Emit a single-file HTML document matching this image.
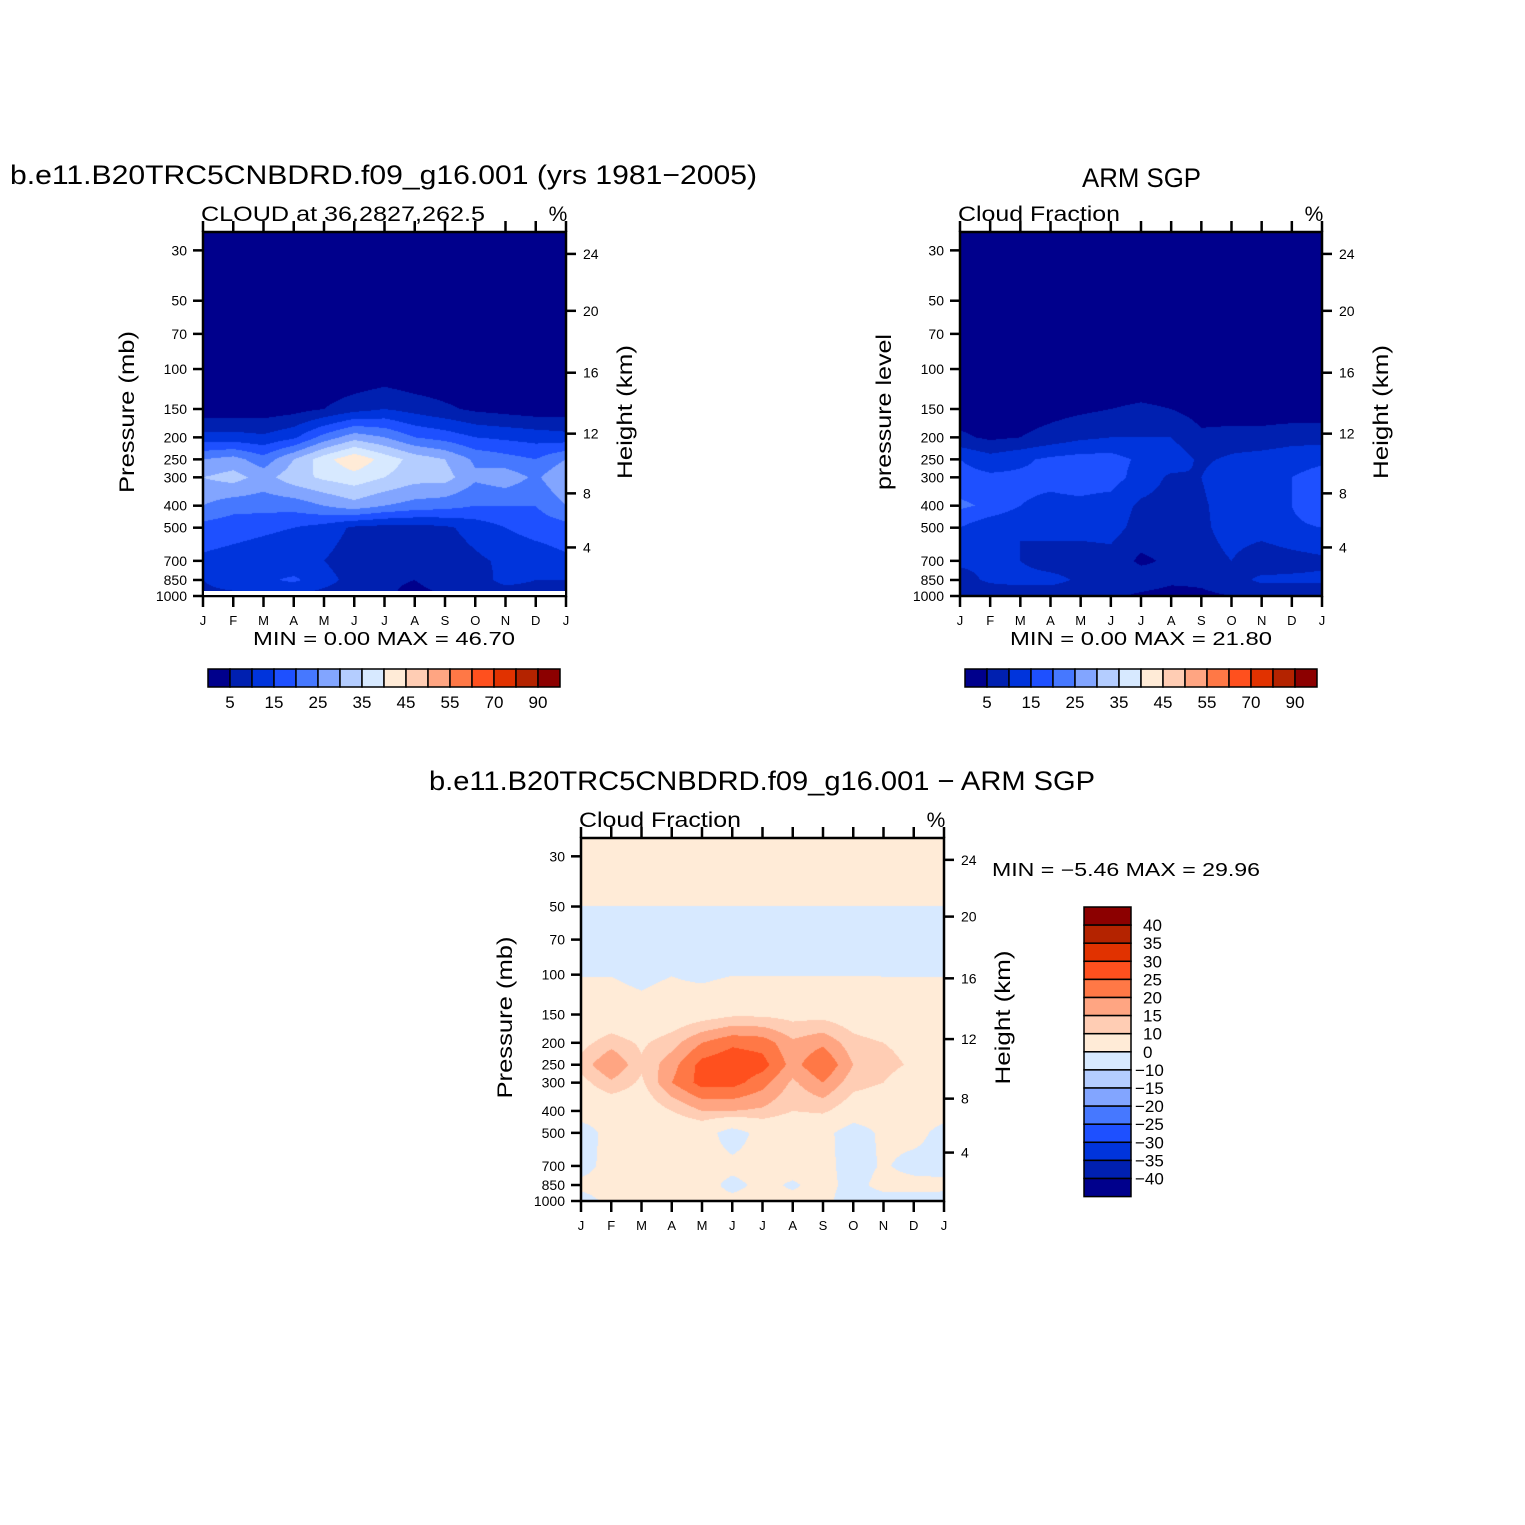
<!DOCTYPE html>
<html><head><meta charset="utf-8">
<style>
body{margin:0;background:#fff;}
#wrap{position:relative;width:1525px;height:1525px;overflow:hidden;font-family:"Liberation Sans",sans-serif;}
canvas{position:absolute;}
svg{position:absolute;left:0;top:0;}
</style></head>
<body>
<div id="wrap">
<canvas id="c1" width="363" height="364" style="left:203px;top:232px"></canvas>
<canvas id="c2" width="362" height="364" style="left:960px;top:232px"></canvas>
<canvas id="c3" width="363" height="363" style="left:581px;top:838px"></canvas>
<svg id="svg" width="1525" height="1525"></svg>
</div>
<script>
const months=["J","F","M","A","M","J","J","A","S","O","N","D","J"];
const pLevels=[25,30,50,70,100,150,200,250,300,400,500,700,850,1000];
const pTicks=[30,50,70,100,150,200,250,300,400,500,700,850,1000];
const hTicks=[24,20,16,12,8,4];
const hTickPressure=[31.1,55.4,103.8,192.6,353,611];
const model25=[0,0,0,0,0,0,0,0,0,0,0,0,0];
const model30=[0,0,0,0,0,0,0,0,0,0,0,0,0];
const model50=[0,0,0,0,0,0,0,0,0,0,0,0,0];
const model70=[0,0,0,0,0,0,0,0,0,0,0,0,0];
const model100=[0,0,0,0,0,0,1,0,0,0,0,0,0];
const model150=[2,2,2,3,5,8,10,8,6,4,3,2,2];
const model200=[12,12,11,14,22,28,25,20,18,15,14,13,12];
const model250=[25,27,22,30,38,44,38,33,30,24,22,20,25];
const model300=[30,32,28,33,36,38,35,32,32,26,28,24,30];
const model400=[25,22,22,22,25,28,25,23,22,20,20,20,25];
const model500=[18,17,16,15,13,9,8,8,9,12,15,17,18];
const model700=[14,13,12,11,10,7,6,6,7,9,11,12,14];
const model850=[10,12,14,16,12,8,6,5,8,7,12,10,10];
const model1000=[9,9,9,9,8,7,6,3,5,6,6,7,9];
const arm25=[0,0,0,0,0,0,0,0,0,0,0,0,0];
const arm30=[0,0,0,0,0,0,0,0,0,0,0,0,0];
const arm50=[0,0,0,0,0,0,0,0,0,0,0,0,0];
const arm70=[0,0,0,0,0,0,0,0,0,0,0,0,0];
const arm100=[0,0,0,0,0,0,0,0,0,0,0,0,0];
const arm150=[2,2,2,3,4,5,6,5,3,2,2,2,2];
const arm200=[6,4,5,7,9,10,10,10,6,7,7,8,8];
const arm250=[15,12,14,16,17,17,14,13,9,11,12,13,14];
const arm300=[17,16,16,16,17,17,13,9,10,14,14,15,17];
const arm400=[21,19,15,14,14,13,9,8,9,13,14,15,19];
const arm500=[15,11,10,12,12,12,8,8,9,12,12,14,15];
const arm700=[11,11,10,7,7,8,4,6,8,10,7,8,9];
const arm850=[8,11,12,12,9,8,8,6,6,8,11,11,11];
const arm1000=[5,6,6,6,6,6,4,3,4,5,6,6,5];
const diff25=[2,2,2,2,2,2,2,2,2,2,2,2,2];
const diff30=[2,2,2,2,2,2,2,2,2,2,2,2,2];
const diff50=[-0.02,-0.02,-0.02,-0.02,-0.02,-0.02,-0.02,-0.02,-0.02,-0.02,-0.02,-0.02,-0.02];
const diff70=[-2,-2,-2,-2,-2,-2,-2,-2,-2,-2,-2,-2,-2];
const diff100=[-0.2,-0.2,-2,-0.2,-2,-0.2,-0.2,-0.2,-0.2,-0.2,-0.2,-0.2,-0.2];
const diff150=[3,4,3,5,7,9,9,8,8,6,4,3,3];
const diff200=[8,13,9,13,20,24,23,16,19,12,10,8,8];
const diff250=[12,20,11,18,27,29,27,18,25,15,12,9,10];
const diff300=[8,14,9,20,27,27,22,14,20,12,10,6,7];
const diff400=[4,4,5,10,15,15,14,10,11,6,5,4,4];
const diff500=[-4,3,3,3,4,-4,3,3,3,-5,2,3,-3];
const diff700=[-3,3,3,3,3,2,3,3,3,-4,1,-3,-3];
const diff850=[2,3,3,3,3,-2,2,-1,3,-3,3,3,2];
const diff1000=[-3,2,2,2,2,2,2,2,2,-4,-4,-4,-3];
const cloudLevels=[5,10,15,20,25,30,35,40,45,50,55,60,70,80,90];
const cloudLabels=["5","15","25","35","45","55","70","90"];
const diffLevels=[-40,-35,-30,-25,-20,-15,-10,0,10,15,20,25,30,35,40];
const diffLabels=["40","35","30","25","20","15","10","0","\u221210","\u221215","\u221220","\u221225","\u221230","\u221235","\u221240"];
const palette=["#00008c","#0020b0","#0034dc","#1e50ff","#4678ff","#82a5ff","#b4cdff","#d7e9ff","#ffebd7","#ffcdb4","#ffa582","#ff7846","#ff501e","#e13200","#b42300","#8c0000"];

const modelGrid=[model25,model30,model50,model70,model100,model150,model200,model250,model300,model400,model500,model700,model850,model1000];
const armGrid=[arm25,arm30,arm50,arm70,arm100,arm150,arm200,arm250,arm300,arm400,arm500,arm700,arm850,arm1000];
const diffGrid=[diff25,diff30,diff50,diff70,diff100,diff150,diff200,diff250,diff300,diff400,diff500,diff700,diff850,diff1000];

const NS="http://www.w3.org/2000/svg";
const svg=document.getElementById('svg');
function mk(tag,attrs,parent){const e=document.createElementNS(NS,tag);for(const k in attrs)e.setAttribute(k,attrs[k]);(parent||svg).appendChild(e);return e;}
function txt(x,y,s,size,anchor,parent,name,len){const t=mk('text',{x:x,y:y,'font-size':size,'text-anchor':anchor||'start','font-family':'Liberation Sans, sans-serif',fill:'#000'},parent);t.textContent=s;
if(len){t.setAttribute('textLength',len);t.setAttribute('lengthAdjust','spacingAndGlyphs');}


return t;}
function hex(c){return [parseInt(c.substr(1,2),16),parseInt(c.substr(3,2),16),parseInt(c.substr(5,2),16)];}
const pal=palette.map(hex);
const PTOP=24.9;
function yOf(p,y0,h){return y0+h*Math.log(p/PTOP)/Math.log(1000/PTOP);}
function pOf(fy){return PTOP*Math.exp(fy*Math.log(1000/PTOP));}
function sample(grid,mx,p){
  let i=0;while(i<pLevels.length-2&&p>pLevels[i+1])i++;
  let t=(Math.log(p)-Math.log(pLevels[i]))/(Math.log(pLevels[i+1])-Math.log(pLevels[i]));t=Math.max(0,Math.min(1,t));
  let j=Math.min(11,Math.floor(mx));let u=mx-j;
  const a=grid[i][j]*(1-u)+grid[i][j+1]*u;const b=grid[i+1][j]*(1-u)+grid[i+1][j+1]*u;
  return a*(1-t)+b*t;
}
function fill(id,grid,levels){
  const c=document.getElementById(id),ctx=c.getContext('2d');const W=c.width,H=c.height;
  const img=ctx.createImageData(W,H);
  for(let y=0;y<H;y++){const p=pOf((y+0.5)/H);
    for(let x=0;x<W;x++){const v=sample(grid,12*(x+0.5)/W,p);
      let k=0;while(k<levels.length&&v>=levels[k])k++;
      const col=pal[k];const o=(y*W+x)*4;img.data[o]=col[0];img.data[o+1]=col[1];img.data[o+2]=col[2];img.data[o+3]=255;}}
  ctx.putImageData(img,0,0);
}
fill('c1',modelGrid,cloudLevels);
fill('c2',armGrid,cloudLevels);
fill('c3',diffGrid,diffLevels);

function axes(x0,y0,w,h,name,sub,subLen,yTitle,yLen){
  const g=mk('g',{});
  
  
  mk('rect',{x:x0,y:y0,width:w,height:h,fill:'none',stroke:'#000','stroke-width':2.5},g);
  months.forEach((m,i)=>{const x=x0+w*i/12;
    mk('line',{x1:x,y1:y0,x2:x,y2:y0-11,stroke:'#000','stroke-width':2.5},g);
    mk('line',{x1:x,y1:y0+h,x2:x,y2:y0+h+11,stroke:'#000','stroke-width':2.5},g);
    txt(x,y0+h+29,m,13,'middle',g,'month-tick-label');});
  pTicks.forEach(p=>{const y=yOf(p,y0,h);
    mk('line',{x1:x0-10,y1:y,x2:x0,y2:y,stroke:'#000','stroke-width':2.5},g);
    txt(x0-16,y+5,String(p),14,'end',g,'pressure-tick-label');});
  hTicks.forEach((v,i)=>{const y=yOf(hTickPressure[i],y0,h);
    mk('line',{x1:x0+w,y1:y,x2:x0+w+10,y2:y,stroke:'#000','stroke-width':2.5},g);
    txt(x0+w+17,y+5,String(v),14,'start',g,'height-tick-label');});
  txt(x0-2,y0-11,sub,21,'start',g,'plot-subtitle',subLen);
  txt(x0+w-8,y0-11,'%',21,'middle',g,'units-label');
  const yt=txt(0,0,yTitle,21,'middle',g,'y-axis-title',yLen);yt.setAttribute('transform','translate('+(x0-69)+','+(y0+h/2-2)+') rotate(-90)');
  const ht=txt(0,0,'Height (km)',21,'middle',g,'height-axis-title',134);ht.setAttribute('transform','translate('+(x0+w+66)+','+(y0+h/2-2)+') rotate(-90)');
}
axes(203,232,363,364,'model-plot','CLOUD at 36.2827,262.5',284,'Pressure (mb)',162);
axes(960,232,362,364,'arm-plot','Cloud Fraction',162,'pressure level',156);
axes(581,838,363,363,'difference-plot','Cloud Fraction',162,'Pressure (mb)',162);
mk('rect',{x:204,y:591,width:361,height:4,fill:'#fff'});

txt(10,184,'b.e11.B20TRC5CNBDRD.f09_g16.001 (yrs 1981\u22122005)',27,'start',null,'model-title',747);
txt(1082,187,'ARM SGP',27,'start',null,'arm-title',119);
txt(429,790,'b.e11.B20TRC5CNBDRD.f09_g16.001 \u2212 ARM SGP',27,'start',null,'difference-title',666);
txt(253,645,'MIN =    0.00  MAX =   46.70',18,'start',null,'model-min-max',262);
txt(1010,645,'MIN =    0.00  MAX =   21.80',18,'start',null,'arm-min-max',262);
txt(992,876,'MIN =   \u22125.46  MAX =   29.96',18,'start',null,'difference-min-max',268);

function hbar(x0,y0,name){
  const g=mk('g',{});
  
  
  const bw=22;
  palette.forEach((c,i)=>{mk('rect',{x:x0+i*bw,y:y0,width:bw,height:18,fill:c,stroke:'#000','stroke-width':1.5},g);});
  cloudLabels.forEach((l,i)=>{txt(x0+bw*(1+2*i),y0+39,l,17,'middle',g,'colorbar-label');});
}
hbar(208,669,'model-colorbar');
hbar(965,669,'arm-colorbar');
(function(){
  const g=mk('g',{});
  
  
  const x0=1084,y0=907,bh=18.1;
  for(let i=0;i<16;i++){mk('rect',{x:x0,y:y0+i*bh,width:47,height:bh,fill:palette[15-i],stroke:'#000','stroke-width':1.5},g);}
  diffLabels.forEach((l,i)=>{txt(l.charAt(0)==='\u2212'?1135:1143,y0+bh*(i+1)+6,l,17,'start',g,'colorbar-label');});
})();
</script>
</body></html>
